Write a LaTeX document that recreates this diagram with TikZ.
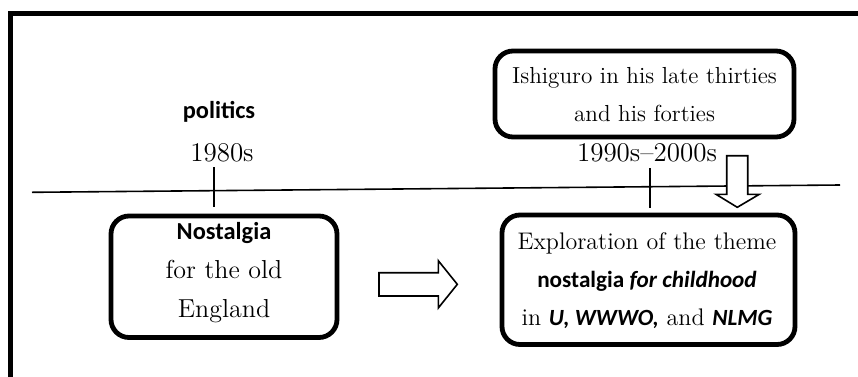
\documentclass[tikz,border=0pt]{standalone}
\usepackage{fontspec}
\newfontfamily\calib{Carlito}
\begin{document}
\begin{tikzpicture}[x=0.5pt,y=-0.5pt,
  box/.style={draw, line width=2.4pt, rounded corners=9pt, inner sep=0pt},
  txt/.style={inner sep=0pt, align=center},
  blockarrow/.style={draw, fill=white, line width=0.8pt, line join=miter},
  tick/.style={line width=0.8pt},
  frameline/.style={line width=2.6pt, line cap=rect}]
\useasboundingbox (0,0) rectangle (858,376);
% frame
\coordinate (fbl) at (10.5,380);
\coordinate (ftl) at (10.5,13.5);
\coordinate (ftr) at (862,13.5);
\draw[frameline] (fbl) -- (ftl) -- (ftr);
% timeline
\coordinate (tlL) at (32,192.3);
\coordinate (tlR) at (840,185);
\draw[line width=0.8pt] (tlL) -- (tlR);
% ticks
\coordinate (t1a) at (214,167);
\coordinate (t1b) at (214,207);
\coordinate (t2a) at (650,168);
\coordinate (t2b) at (650,208);
\draw[tick] (t1a) -- (t1b);
\draw[tick] (t2a) -- (t2b);
% labels
\node[txt, font=\calib\bfseries\fontsize{12.2}{14}\selectfont] (pol) at (219,112) {politics};
\node[txt, font=\fontsize{13.5}{16}\selectfont] (y1) at (222,153) {1980s};
\node[txt, font=\fontsize{13.5}{16}\selectfont] (y2) at (647,153) {1990s--2000s};
% Ishiguro box
\node[box, minimum width=149.5pt, minimum height=43pt] (ish) at (644.5,94) {};
\node[txt, font=\fontsize{11.6}{19}\selectfont] (ishT) at (644.5,95) {Ishiguro in his late thirties\\and his forties};
% Nostalgia box
\node[box, minimum width=113pt, minimum height=60.75pt] (nos) at (224,276.75) {};
\node[txt, font=\fontsize{13}{19.5}\selectfont] (nosT) at (224,273) {{\calib\bfseries\fontsize{12.2}{14}\selectfont Nostalgia}\\for the old\\England};
% Exploration box
\node[box, minimum width=146.5pt, minimum height=64.75pt] (exp) at (648.5,279.75) {};
\node[txt, font=\fontsize{12}{19}\selectfont] (expT) at (647,281) {Exploration of the theme\\{\calib\bfseries\fontsize{11.6}{14}\selectfont nostalgia \itshape for childhood}\\in {\calib\bfseries\itshape\fontsize{11.6}{14}\selectfont U, WWWO,} and {\calib\bfseries\itshape\fontsize{11.6}{14}\selectfont NLMG}};
% right block arrow
\draw[blockarrow] (379,272.7) -- (438.3,272.7) -- (438.3,260.7) -- (457.3,284.3) -- (438.3,308) -- (438.3,296) -- (379,296) -- cycle;
% down block arrow
\draw[blockarrow] (726.7,155.7) -- (747.7,155.7) -- (747.7,194.3) -- (759.3,194.3) -- (737.3,207.3) -- (716,194.3) -- (726.7,194.3) -- cycle;
\end{tikzpicture}
\end{document}
